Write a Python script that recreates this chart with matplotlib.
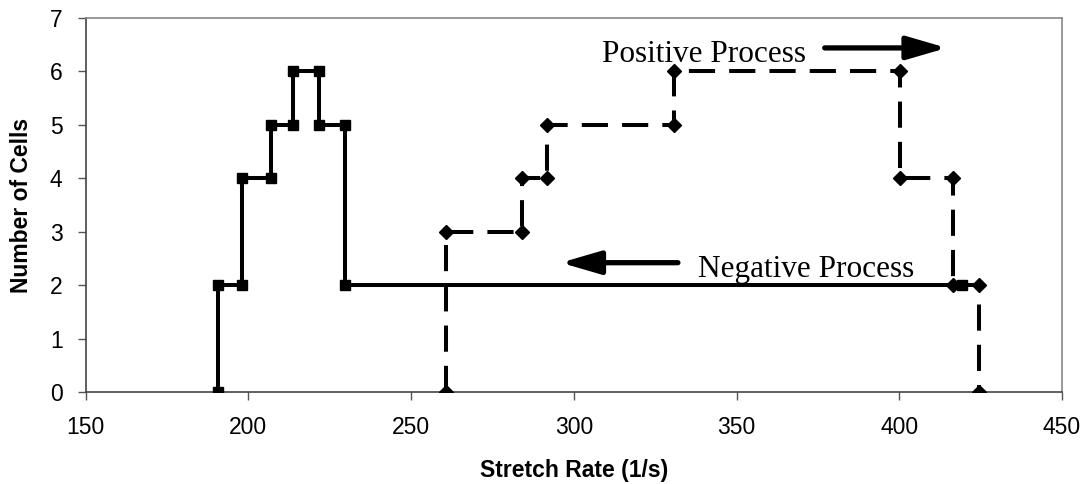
import matplotlib
matplotlib.use("Agg")
import matplotlib.pyplot as plt

# Negative process (solid line, square markers)
neg_x = [190.7, 190.7, 198.0, 198.0, 207.1, 207.1, 213.7, 213.7, 221.6, 221.6, 229.6, 229.6, 419.3]
neg_y = [0, 2, 2, 4, 4, 5, 5, 6, 6, 5, 5, 2, 2]

# Positive process (dashed line, diamond markers)
pos_x = [260.9, 260.9, 284.0, 284.0, 291.8, 291.8, 330.7, 330.7, 400.2, 400.2, 416.6, 416.6, 424.6, 424.6]
pos_y = [0, 3, 3, 4, 4, 5, 5, 6, 6, 4, 4, 2, 2, 0]

x_ticks = [150, 200, 250, 300, 350, 400, 450]
y_ticks = [0, 1, 2, 3, 4, 5, 6, 7]

fig = plt.figure(figsize=(10.88, 4.84), dpi=100)
ax = fig.add_axes([85.5 / 1088, 1 - 392 / 484, (1062 - 85.5) / 1088, (392 - 18) / 484])

ax.plot(neg_x, neg_y, color="black", lw=2.9, marker="s", markersize=7.5,
        solid_joinstyle="miter", zorder=3)
ax.plot(pos_x, pos_y, color="black", lw=2.9, marker="D", markersize=7.0,
        dashes=(6.5, 3.5), zorder=3)

ax.set_xlim(150, 450)
ax.set_ylim(0, 7)
ax.set_xticks(x_ticks)
ax.set_yticks(y_ticks)

tick_font = dict(family="Liberation Sans", size=16.5)
ax.set_xticklabels([str(v) for v in x_ticks], fontdict=tick_font)
ax.set_yticklabels([str(v) for v in y_ticks], fontdict=tick_font)
ax.tick_params(axis="both", direction="out", length=5.5, width=1, color="#555555")
ax.tick_params(axis="x", pad=12)
ax.tick_params(axis="y", pad=11)

ax.set_xlabel("Stretch Rate (1/s)", family="Liberation Sans", fontsize=16.5,
              fontweight="bold", labelpad=14)
ax.set_ylabel("Number of Cells", family="Liberation Sans", fontsize=16.5,
              fontweight="bold", labelpad=12)

for side in ["top", "right"]:
    ax.spines[side].set_color("#888888")
    ax.spines[side].set_linewidth(1.2)
for side in ["left", "bottom"]:
    ax.spines[side].set_color("#444444")
    ax.spines[side].set_linewidth(1.2)

serif = dict(family="Liberation Serif", size=22.5)
ax.text(308.6, 6.18, "Positive Process", ha="left", va="baseline", **serif)
ax.text(338.2, 2.16, "Negative Process", ha="left", va="baseline", **serif)

arrow = dict(arrowstyle="-|>,head_length=1.2,head_width=0.35", lw=3.8,
             color="black", mutation_scale=20, shrinkA=0, shrinkB=0)
ax.annotate("", xy=(414.6, 6.44), xytext=(377.1, 6.44), arrowprops=arrow)
ax.annotate("", xy=(296.0, 2.42), xytext=(332.0, 2.42), arrowprops=arrow)

fig.savefig("out.png", dpi=100)
